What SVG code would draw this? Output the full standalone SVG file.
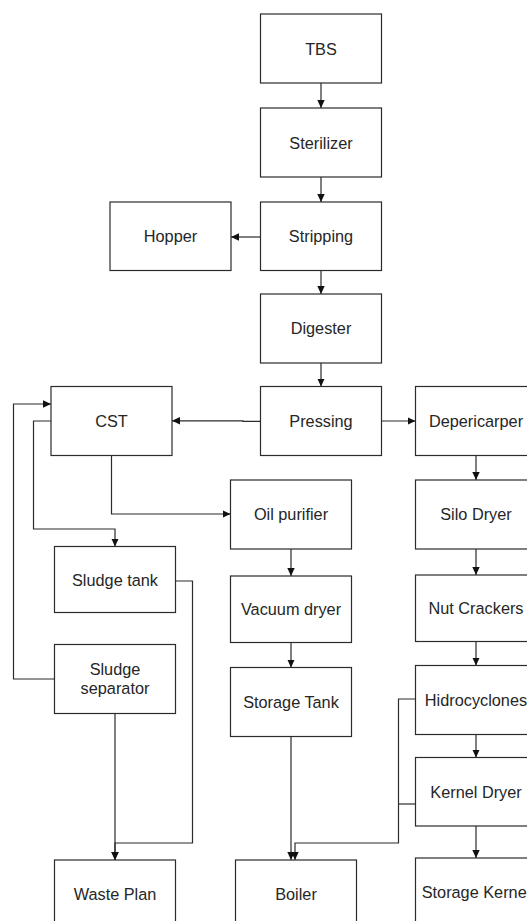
<svg xmlns="http://www.w3.org/2000/svg" width="527" height="921" viewBox="0 0 527 921">
<style>
.box{fill:#fff;stroke:#2b2b2b;stroke-width:1.2}
.lbl{font-family:"Liberation Sans",Arial,sans-serif;font-size:16.3px;fill:#262626;text-anchor:middle;dominant-baseline:central}
.con{fill:none;stroke:#2b2b2b;stroke-width:1.2}
</style>
<defs>
<marker id="ah" markerWidth="8" markerHeight="8" refX="8" refY="3.7" orient="auto" markerUnits="userSpaceOnUse">
<path d="M0,0 L8,3.7 L0,7.4 z" fill="#111"/>
</marker>
</defs>
<rect width="527" height="921" fill="#fff"/>
<g id="connectors">
<path class="con" d="M321 83 V108" marker-end="url(#ah)"/>
<path class="con" d="M321 177 V202" marker-end="url(#ah)"/>
<path class="con" d="M260.5 237 H231" marker-end="url(#ah)"/>
<path class="con" d="M321 270.5 V294" marker-end="url(#ah)"/>
<path class="con" d="M321 363 V386.5" marker-end="url(#ah)"/>
<path class="con" d="M260.5 421.3 H243 V420.8 H172" marker-end="url(#ah)"/>
<path class="con" d="M381.5 421 H415.5" marker-end="url(#ah)"/>
<path class="con" d="M111.5 455.5 V514 H230.5" marker-end="url(#ah)"/>
<path class="con" d="M51 421 H33.5 V529 H115 V546.5" marker-end="url(#ah)"/>
<path class="con" d="M54.5 679 H13.5 V404 H51" marker-end="url(#ah)"/>
<path class="con" d="M175.5 581 H192.5 V843 H115 V860" marker-end="url(#ah)"/>
<path class="con" d="M115 713.5 V860" marker-end="url(#ah)"/>
<path class="con" d="M291 549 V576" marker-end="url(#ah)"/>
<path class="con" d="M291 642.5 V667.5" marker-end="url(#ah)"/>
<path class="con" d="M291 736.5 V860" marker-end="url(#ah)"/>
<path class="con" d="M415.5 699 H398.5 V843 H295 V860" marker-end="url(#ah)"/>
<path class="con" d="M415.5 804 H398.5"/>
<path class="con" d="M476 455.5 V480" marker-end="url(#ah)"/>
<path class="con" d="M476 549 V575" marker-end="url(#ah)"/>
<path class="con" d="M476 641.5 V665.5" marker-end="url(#ah)"/>
<path class="con" d="M476 734.5 V757.5" marker-end="url(#ah)"/>
<path class="con" d="M476 826 V858" marker-end="url(#ah)"/>
</g>
<g id="tbs"><rect class="box" x="260.5" y="14" width="121" height="69"/><text class="lbl" x="321" y="48.5">TBS</text></g>
<g id="sterilizer"><rect class="box" x="260.5" y="108" width="121" height="69"/><text class="lbl" x="321" y="142.5">Sterilizer</text></g>
<g id="stripping"><rect class="box" x="260.5" y="202" width="121" height="68.5"/><text class="lbl" x="321" y="236">Stripping</text></g>
<g id="hopper"><rect class="box" x="110" y="202" width="121" height="68.5"/><text class="lbl" x="170.5" y="236">Hopper</text></g>
<g id="digester"><rect class="box" x="260.5" y="294" width="121" height="69"/><text class="lbl" x="321" y="328">Digester</text></g>
<g id="pressing"><rect class="box" x="260.5" y="386.5" width="121" height="69"/><text class="lbl" x="321" y="420.5">Pressing</text></g>
<g id="cst"><rect class="box" x="51" y="386.5" width="121" height="69"/><text class="lbl" x="111.5" y="420.5">CST</text></g>
<g id="depericarper"><rect class="box" x="415.5" y="386.5" width="121" height="69"/><text class="lbl" x="476" y="420.5">Depericarper</text></g>
<g id="oil-purifier"><rect class="box" x="230.5" y="480" width="121" height="69"/><text class="lbl" x="291" y="514">Oil purifier</text></g>
<g id="silo-dryer"><rect class="box" x="415.5" y="480" width="121" height="69"/><text class="lbl" x="476" y="514">Silo Dryer</text></g>
<g id="sludge-tank"><rect class="box" x="54.5" y="546.5" width="121" height="66"/><text class="lbl" x="115" y="579.5">Sludge tank</text></g>
<g id="vacuum-dryer"><rect class="box" x="230.5" y="576" width="121" height="66.5"/><text class="lbl" x="291" y="609">Vacuum dryer</text></g>
<g id="nut-crackers"><rect class="box" x="415.5" y="575" width="121" height="66.5"/><text class="lbl" x="476" y="608">Nut Crackers</text></g>
<g id="sludge-separator"><rect class="box" x="54.5" y="644.5" width="121" height="69"/><text class="lbl" x="115" y="669">Sludge</text><text class="lbl" x="115" y="688">separator</text></g>
<g id="storage-tank"><rect class="box" x="230.5" y="667.5" width="121" height="69"/><text class="lbl" x="291" y="701.5">Storage Tank</text></g>
<g id="hidrocyclones"><rect class="box" x="415.5" y="665.5" width="121" height="69"/><text class="lbl" x="476" y="699.5">Hidrocyclones</text></g>
<g id="kernel-dryer"><rect class="box" x="415.5" y="757.5" width="121" height="68.5"/><text class="lbl" x="476" y="791.5">Kernel Dryer</text></g>
<g id="storage-kernel"><rect class="box" x="415.5" y="858" width="121" height="69"/><text class="lbl" x="476" y="892">Storage Kernel</text></g>
<g id="waste-plan"><rect class="box" x="54.5" y="860" width="121" height="69"/><text class="lbl" x="115" y="894">Waste Plan</text></g>
<g id="boiler"><rect class="box" x="235.5" y="860" width="121" height="69"/><text class="lbl" x="296" y="894">Boiler</text></g>
</svg>
